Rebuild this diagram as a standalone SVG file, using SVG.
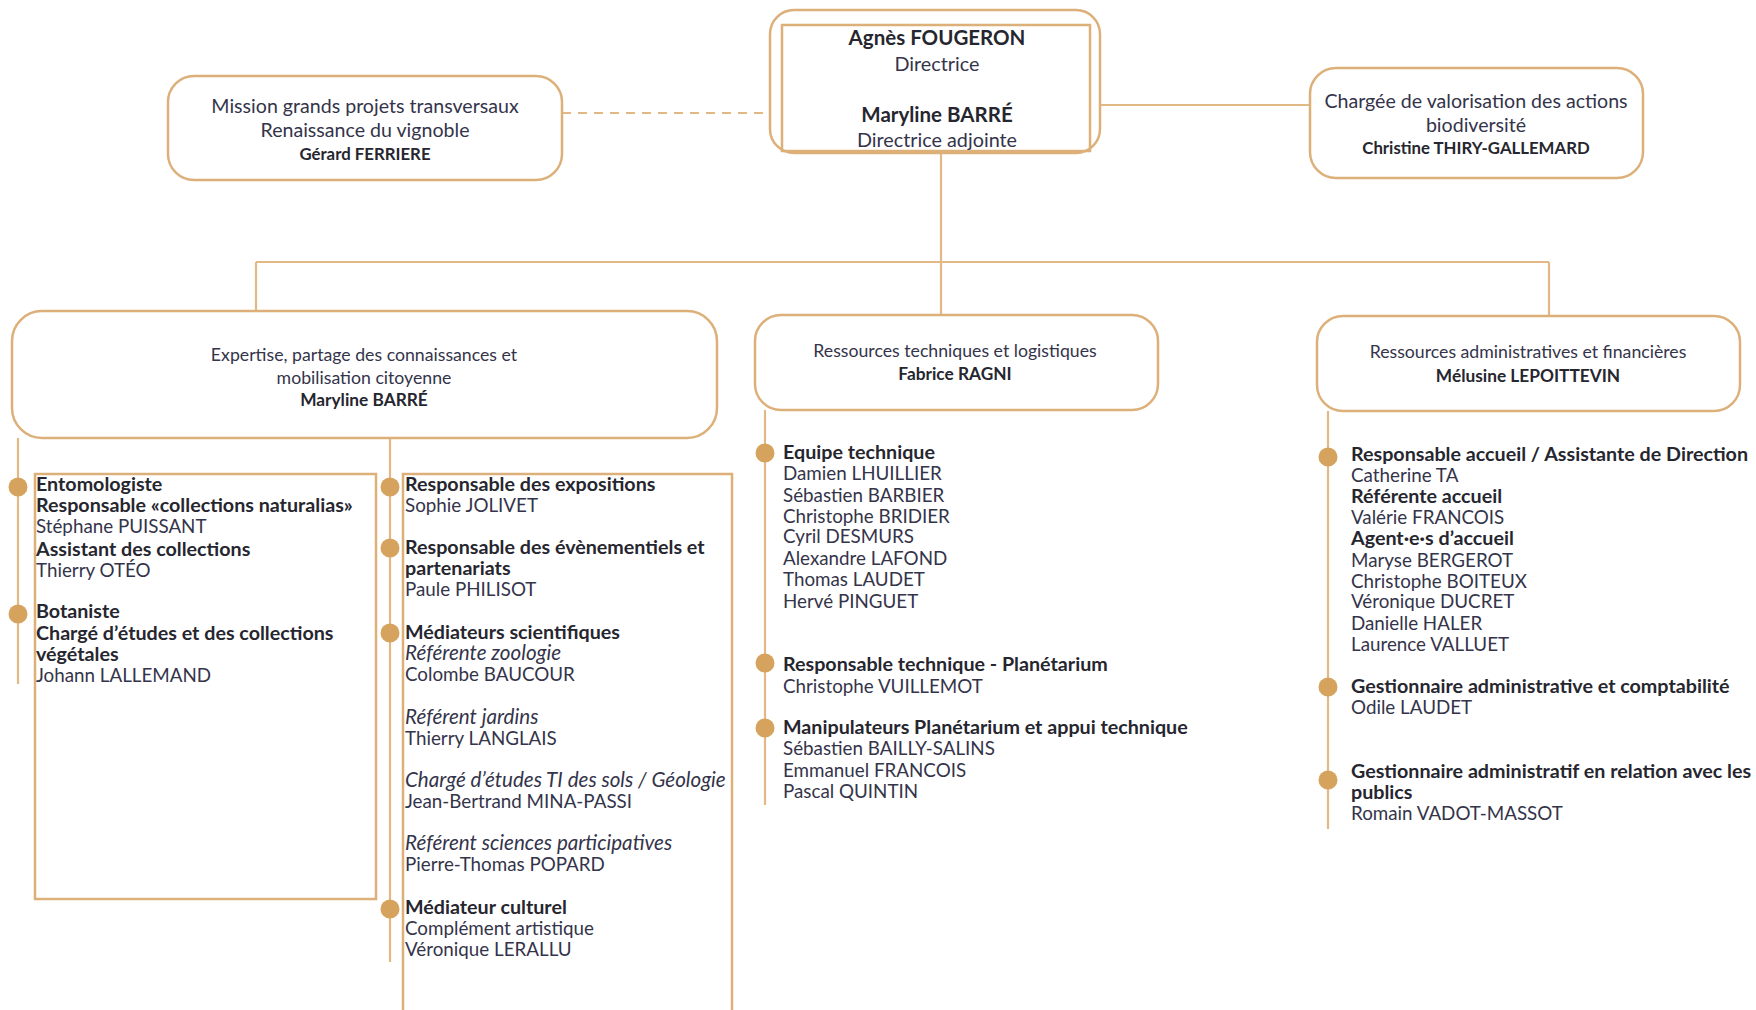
<svg xmlns="http://www.w3.org/2000/svg" width="1756" height="1010" viewBox="0 0 1756 1010">
<style>
.node{fill:#fff;stroke:#DDB07A;stroke-width:2.5}
.box{fill:none;stroke:#DDB07A;stroke-width:2.5}
.conn{stroke:#E2B985;stroke-width:2.2;fill:none}
.dash{stroke-dasharray:9 7}
text{font-family:Lato,"Liberation Sans",sans-serif;fill:#34344a}
.b{font-weight:bold;fill:#26262f}
.c{text-anchor:middle}
.h1{font-size:20.5px}
.h1r{font-size:19.8px}
.h2{font-size:19.6px}
.h2b{font-size:16.8px}
.h3{font-size:17.7px}
.h3b{font-size:17.3px}
.l{font-size:18.8px}
.l .b{font-size:19.7px}
.l .i{font-size:20.6px;font-style:italic}
.dot{fill:#D6A35E}
</style>
<rect width="1756" height="1010" fill="#fff"/>
<g id="connectors">
<line class="conn dash" x1="562" y1="113" x2="770" y2="113"/>
<line class="conn" x1="1100" y1="105" x2="1310" y2="105"/>
<line class="conn" x1="941" y1="153" x2="941" y2="262"/>
<line class="conn" x1="256" y1="262" x2="1549" y2="262"/>
<line class="conn" x1="256" y1="262" x2="256" y2="311"/>
<line class="conn" x1="941" y1="262" x2="941" y2="315"/>
<line class="conn" x1="1549" y1="262" x2="1549" y2="316"/>
<line class="conn" x1="18" y1="438" x2="18" y2="684"/>
<line class="conn" x1="390" y1="438" x2="390" y2="962"/>
<line class="conn" x1="765" y1="410" x2="765" y2="805"/>
<line class="conn" x1="1328" y1="411" x2="1328" y2="829"/>
</g>
<g id="direction">
<rect class="node" x="770" y="10" width="330" height="143" rx="24"/>
<rect class="box" x="782" y="25" width="308" height="126"/>
<text class="b c h1" x="937" y="45">Agnès FOUGERON</text>
<text class="c h1r" x="937" y="71">Directrice</text>
<text class="b c h1" x="937" y="122">Maryline BARRÉ</text>
<text class="c h1r" x="937" y="147">Directrice adjointe</text>
</g>
<g id="mission">
<rect class="node" x="168" y="76" width="394" height="104" rx="26"/>
<text class="c h2" x="365" y="113">Mission grands projets transversaux</text>
<text class="c h2" x="365" y="137">Renaissance du vignoble</text>
<text class="b c h2b" x="365" y="160">Gérard FERRIERE</text>
</g>
<g id="valorisation">
<rect class="node" x="1310" y="68" width="333" height="110" rx="26"/>
<text class="c h2" x="1476" y="108">Chargée de valorisation des actions</text>
<text class="c h2" x="1476" y="132">biodiversité</text>
<text class="b c h2b" x="1476" y="154">Christine THIRY-GALLEMARD</text>
</g>
<g id="expertise">
<rect class="node" x="12" y="311" width="705" height="127" rx="30"/>
<text class="c h3" x="364" y="361">Expertise, partage des connaissances et</text>
<text class="c h3" x="364" y="384">mobilisation citoyenne</text>
<text class="b c h3b" x="364" y="406">Maryline BARRÉ</text>
</g>
<g id="techniques">
<rect class="node" x="755" y="315" width="403" height="95" rx="26"/>
<text class="c h3" x="955" y="357">Ressources techniques et logistiques</text>
<text class="b c h3b" x="955" y="380">Fabrice RAGNI</text>
</g>
<g id="administratives">
<rect class="node" x="1317" y="316" width="423" height="95" rx="26"/>
<text class="c h3" x="1528" y="358">Ressources administratives et financières</text>
<text class="b c h3b" x="1528" y="382">Mélusine LEPOITTEVIN</text>
</g>
<g id="collections">
<rect class="box" x="35" y="474" width="341" height="425"/>
<circle class="dot" cx="18" cy="487" r="9.5"/>
<circle class="dot" cx="18" cy="614" r="9.5"/>
<text class="l">
<tspan class="b" x="36" y="491">Entomologiste</tspan>
<tspan class="b" x="36" y="512">Responsable «collections naturalias»</tspan>
<tspan x="36" y="533">Stéphane PUISSANT</tspan>
<tspan class="b" x="36" y="556">Assistant des collections</tspan>
<tspan x="36" y="577">Thierry OTÉO</tspan>
<tspan class="b" x="36" y="618">Botaniste</tspan>
<tspan class="b" x="36" y="640">Chargé d’études et des collections</tspan>
<tspan class="b" x="36" y="661">végétales</tspan>
<tspan x="36" y="682">Johann LALLEMAND</tspan>
</text>
</g>
<g id="mediation">
<rect class="box" x="403" y="474" width="329" height="550"/>
<circle class="dot" cx="390" cy="487" r="9.5"/>
<circle class="dot" cx="390" cy="548" r="9.5"/>
<circle class="dot" cx="390" cy="633" r="9.5"/>
<circle class="dot" cx="390" cy="909" r="9.5"/>
<text class="l">
<tspan class="b" x="405" y="491">Responsable des expositions</tspan>
<tspan x="405" y="512">Sophie JOLIVET</tspan>
<tspan class="b" x="405" y="554">Responsable des évènementiels et</tspan>
<tspan class="b" x="405" y="575">partenariats</tspan>
<tspan x="405" y="596">Paule PHILISOT</tspan>
<tspan class="b" x="405" y="639">Médiateurs scientifiques</tspan>
<tspan class="i" x="405" y="660">Référente zoologie</tspan>
<tspan x="405" y="681">Colombe BAUCOUR</tspan>
<tspan class="i" x="405" y="724">Référent jardins</tspan>
<tspan x="405" y="745">Thierry LANGLAIS</tspan>
<tspan class="i" x="405" y="787">Chargé d’études TI des sols / Géologie</tspan>
<tspan x="405" y="808">Jean-Bertrand MINA-PASSI</tspan>
<tspan class="i" x="405" y="850">Référent sciences participatives</tspan>
<tspan x="405" y="871">Pierre-Thomas POPARD</tspan>
<tspan class="b" x="405" y="914">Médiateur culturel</tspan>
<tspan x="405" y="935">Complément artistique</tspan>
<tspan x="405" y="956">Véronique LERALLU</tspan>
</text>
</g>
<g id="equipe-technique">
<circle class="dot" cx="765" cy="453" r="9.5"/>
<circle class="dot" cx="765" cy="663" r="9.5"/>
<circle class="dot" cx="765" cy="728" r="9.5"/>
<text class="l">
<tspan class="b" x="783" y="459">Equipe technique</tspan>
<tspan x="783" y="480">Damien LHUILLIER</tspan>
<tspan x="783" y="502">Sébastien BARBIER</tspan>
<tspan x="783" y="523">Christophe BRIDIER</tspan>
<tspan x="783" y="543">Cyril DESMURS</tspan>
<tspan x="783" y="565">Alexandre LAFOND</tspan>
<tspan x="783" y="586">Thomas LAUDET</tspan>
<tspan x="783" y="608">Hervé PINGUET</tspan>
<tspan class="b" x="783" y="671">Responsable technique - Planétarium</tspan>
<tspan x="783" y="693">Christophe VUILLEMOT</tspan>
<tspan class="b" x="783" y="734">Manipulateurs Planétarium et appui technique</tspan>
<tspan x="783" y="755">Sébastien BAILLY-SALINS</tspan>
<tspan x="783" y="777">Emmanuel FRANCOIS</tspan>
<tspan x="783" y="798">Pascal QUINTIN</tspan>
</text>
</g>
<g id="accueil-gestion">
<circle class="dot" cx="1328" cy="457" r="9.5"/>
<circle class="dot" cx="1328" cy="687" r="9.5"/>
<circle class="dot" cx="1328" cy="780" r="9.5"/>
<text class="l">
<tspan class="b" x="1351" y="461">Responsable accueil / Assistante de Direction</tspan>
<tspan x="1351" y="482">Catherine TA</tspan>
<tspan class="b" x="1351" y="503">Référente accueil</tspan>
<tspan x="1351" y="524">Valérie FRANCOIS</tspan>
<tspan class="b" x="1351" y="545">Agent·e·s d’accueil</tspan>
<tspan x="1351" y="567">Maryse BERGEROT</tspan>
<tspan x="1351" y="588">Christophe BOITEUX</tspan>
<tspan x="1351" y="608">Véronique DUCRET</tspan>
<tspan x="1351" y="630">Danielle HALER</tspan>
<tspan x="1351" y="651">Laurence VALLUET</tspan>
<tspan class="b" x="1351" y="693">Gestionnaire administrative et comptabilité</tspan>
<tspan x="1351" y="714">Odile LAUDET</tspan>
<tspan class="b" x="1351" y="778">Gestionnaire administratif en relation avec les</tspan>
<tspan class="b" x="1351" y="799">publics</tspan>
<tspan x="1351" y="820">Romain VADOT-MASSOT</tspan>
</text>
</g>
</svg>
